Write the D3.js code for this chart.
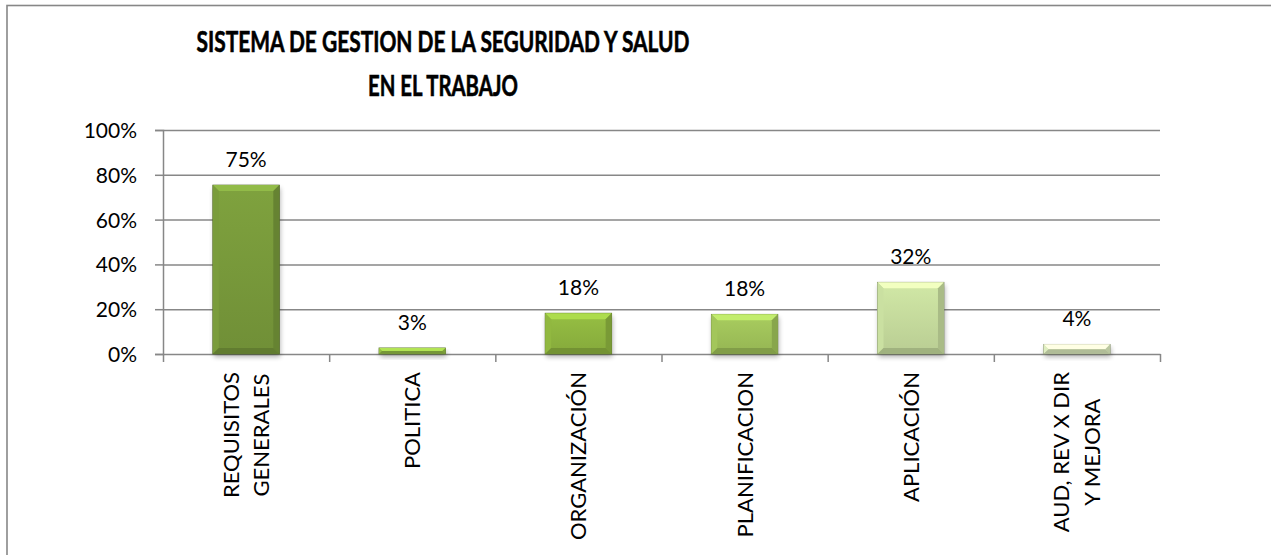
<!DOCTYPE html>
<html>
<head>
<meta charset="utf-8">
<script src="https://cdn.jsdelivr.net/npm/d3@7/dist/d3.min.js"></script>
<style>
  body { margin: 0; background: #fff; }
  svg { display: block; }
</style>
</head>
<body>
<svg id="chart" width="1271" height="555"></svg>
<script>
// data
const categories = ['REQUISITOS GENERALES', 'POLITICA', 'ORGANIZACIÓN', 'PLANIFICACION', 'APLICACIÓN', 'AUD, REV X DIR Y MEJORA'];
const categoryLines = [['REQUISITOS', 'GENERALES'], ['POLITICA'], ['ORGANIZACIÓN'], ['PLANIFICACION'], ['APLICACIÓN'], ['AUD, REV X DIR', 'Y MEJORA']];
const values = [0.754, 0.027, 0.182, 0.177, 0.32, 0.043];
const yTicks = [0, 0.2, 0.4, 0.6, 0.8, 1];
const titleLines = ['SISTEMA DE GESTION DE LA SEGURIDAD Y SALUD', 'EN EL TRABAJO'];
const titleWidths = [493, 150];

const barColors = ['#76973a', '#90b844', '#8cb23e', '#9dbf58', '#c3d89b', '#d6e5b8'];
const gridColor = '#878787';
const font = 'Lato, "Open Sans", sans-serif';

const plot = {left: 163, right: 1160, top: 130, bottom: 354};

const svg = d3.select('#chart');

// frame around the chart
svg.append('rect')
    .attr('x', 7).attr('y', 5.5)
    .attr('width', 1270).attr('height', 600)
    .attr('fill', 'none')
    .attr('stroke', gridColor)
    .attr('stroke-width', 1.6);

// title (condensed to the width of the original bold face)
svg.append('text')
    .attr('font-family', font)
    .attr('font-weight', 'bold')
    .attr('font-size', 28.5)
    .attr('stroke', '#000')
    .attr('stroke-width', 0.6)
    .attr('text-anchor', 'middle')
  .selectAll('tspan')
  .data(titleLines)
  .enter()
  .append('tspan')
    .attr('x', 443)
    .attr('y', (d, i) => 52 + i * 44)
    .attr('textLength', (d, i) => titleWidths[i])
    .attr('lengthAdjust', 'spacingAndGlyphs')
    .text(d => d);

// scales
const x = d3.scaleBand()
    .domain(categories)
    .range([plot.left, plot.right])
    .paddingInner(0.6)
    .paddingOuter(0.3);

const xEdge = d3.scaleLinear()
    .domain([0, categories.length])
    .range([plot.left, plot.right]);

const y = d3.scaleLinear()
    .domain([0, 1])
    .range([plot.bottom, plot.top]);

// gridlines
svg.append('g')
    .attr('transform', `translate(${plot.left}, 0)`)
    .call(d3.axisLeft(y).tickValues(yTicks.slice(1)).tickSize(-(plot.right - plot.left)).tickFormat(''))
    .call(g => g.select('.domain').remove())
    .call(g => g.selectAll('line').attr('stroke', gridColor).attr('stroke-width', 1.5));

// y axis
svg.append('g')
    .attr('transform', `translate(${plot.left}, 0)`)
    .call(d3.axisLeft(y).tickValues(yTicks).tickFormat(d3.format('.0%')).tickSize(8).tickPadding(18))
    .call(g => g.select('.domain').attr('stroke', gridColor).attr('stroke-width', 1.5))
    .call(g => g.selectAll('line').attr('stroke', gridColor).attr('stroke-width', 1.5))
    .call(g => g.selectAll('text')
        .attr('font-family', font)
        .attr('font-size', 21)
        .attr('fill', '#000')
        .attr('dy', '0.36em'));

// x axis, ticks between categories
svg.append('g')
    .attr('transform', `translate(0, ${plot.bottom})`)
    .call(d3.axisBottom(xEdge).tickValues(d3.range(categories.length + 1)).tickSize(8).tickSizeOuter(0).tickFormat(''))
    .call(g => g.select('.domain').attr('stroke', gridColor).attr('stroke-width', 1.5))
    .call(g => g.selectAll('line').attr('stroke', gridColor).attr('stroke-width', 1.5));

// bar shadow filter
const defs = svg.append('defs');
defs.append('filter')
    .attr('id', 'shadow')
    .attr('x', '-20%').attr('y', '-20%').attr('width', '140%').attr('height', '160%')
  .append('feGaussianBlur')
    .attr('stdDeviation', 2.5);

barColors.forEach((c, i) => {
    const grad = defs.append('linearGradient')
        .attr('id', 'bar-grad-' + i)
        .attr('x1', 0).attr('y1', 0).attr('x2', 0).attr('y2', 1);
    grad.append('stop').attr('offset', '0%').attr('stop-color', d3.color(c).brighter(0.2));
    grad.append('stop').attr('offset', '100%').attr('stop-color', d3.color(c).darker(0.15));
});

const barData = categories.map((cat, i) => ({cat, value: values[i], idx: i}));

const bars = svg.append('g')
  .selectAll('g')
  .data(barData)
  .enter()
  .append('g')
    .attr('transform', d => `translate(${x(d.cat)}, ${y(d.value)})`);

const bw = x.bandwidth();

bars.append('rect')
    .attr('x', 1)
    .attr('y', 3)
    .attr('width', bw)
    .attr('height', d => y(0) - y(d.value))
    .attr('fill', '#000')
    .attr('opacity', 0.3)
    .attr('filter', 'url(#shadow)');

bars.append('rect')
    .attr('width', bw)
    .attr('height', d => y(0) - y(d.value))
    .attr('fill', d => `url(#bar-grad-${d.idx})`)
    .attr('stroke', d => d3.color(barColors[d.idx]).darker(1.3))
    .attr('stroke-width', 0.8);

// bevel edges
bars.each(function(d) {
    const h = y(0) - y(d.value);
    const b = Math.min(6, h / 2);
    const base = d3.color(barColors[d.idx]);
    const g = d3.select(this);
    g.append('polygon')
        .attr('points', `0,0 ${bw},0 ${bw - b},${b} ${b},${b}`)
        .attr('fill', base.brighter(0.6));
    g.append('polygon')
        .attr('points', `0,0 ${b},${b} ${b},${h - b} 0,${h}`)
        .attr('fill', base.brighter(0.1));
    g.append('polygon')
        .attr('points', `${bw},0 ${bw},${h} ${bw - b},${h - b} ${bw - b},${b}`)
        .attr('fill', base.darker(0.4));
    g.append('polygon')
        .attr('points', `0,${h} ${b},${h - b} ${bw - b},${h - b} ${bw},${h}`)
        .attr('fill', base.darker(0.55));
});

// value labels
svg.append('g')
  .selectAll('text')
  .data(barData)
  .enter()
  .append('text')
    .attr('x', d => x(d.cat) + bw / 2)
    .attr('y', d => y(d.value) - 18)
    .attr('text-anchor', 'middle')
    .attr('font-family', font)
    .attr('font-size', 21)
    .text(d => d3.format('.0%')(d.value));

// category labels, rotated, top aligned under the axis
const labelTop = 372;
const lineH = 31;
const catLabels = svg.append('g')
  .selectAll('text')
  .data(barData)
  .enter()
  .append('text')
    .attr('font-family', font)
    .attr('font-size', 22)
    .attr('text-anchor', 'middle');

catLabels.each(function(d) {
    const lines = categoryLines[d.idx];
    const t = d3.select(this);
    lines.forEach((line, i) => {
        t.append('tspan')
            .attr('x', 0)
            .attr('y', (i - (lines.length - 1) / 2) * lineH)
            .attr('dy', '0.36em')
            .text(line);
    });
    const longest = d3.max(t.selectAll('tspan').nodes(), n => n.getComputedTextLength());
    const cx = x(d.cat) + bw / 2;
    t.attr('transform', `translate(${cx}, ${labelTop + longest / 2}) rotate(-90)`);
});
</script>
</body>
</html>
